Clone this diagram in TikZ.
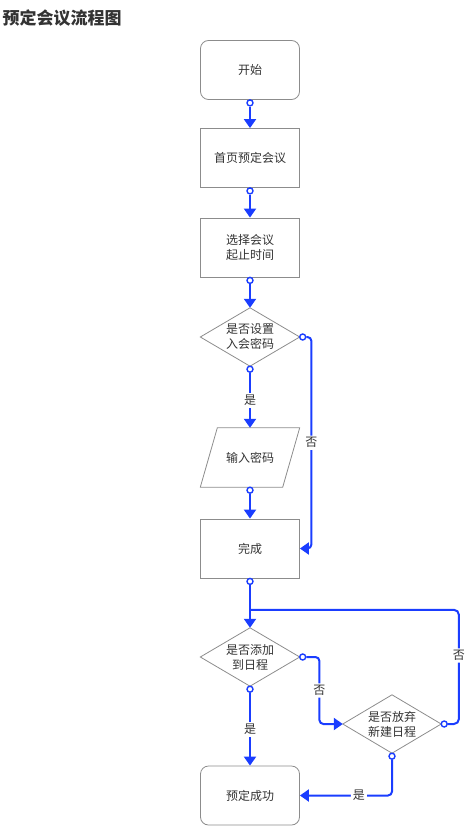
\documentclass[tikz,border=0pt]{standalone}
\usepackage{fontspec}
\setmainfont{Noto Sans CJK SC}
\usetikzlibrary{arrows.meta,calc}
\definecolor{flow}{HTML}{1A3DFF}
\definecolor{edgegray}{HTML}{8C8C8C}
\definecolor{txt}{HTML}{333333}
\tikzset{
  base/.style={minimum width=99pt, minimum height=59pt, inner sep=0pt, align=center,
    font=\fontsize{12}{15}\selectfont, text=txt},
  procbox/.style={base, draw=edgegray, line width=0.8pt},
  termbox/.style={procbox, rounded corners=8pt},
  shapeonly/.style={base},
  outline/.style={draw=edgegray, line width=0.8pt},
  dotnode/.style={circle, draw=flow, fill=white, line width=1.4pt, minimum size=6pt, inner sep=0pt},
  conn/.style={draw=flow, line width=2pt, -{Triangle[width=12pt,length=9pt]}},
  plainconn/.style={draw=flow, line width=2pt},
  lbl/.style={fill=white, text=txt, font=\fontsize{12}{14}\selectfont, inner sep=2pt},
}
\begin{document}
\begin{tikzpicture}[x=1pt,y=-1pt]
\useasboundingbox (0,0) rectangle (473,826);
\node[anchor=west, text=txt, font=\fontsize{17}{20}\selectfont\bfseries] (title) at (-1,18) {预定会议流程图};

% nodes
\node[termbox] (start) at (250,70) {开始};
\node[procbox] (home) at (250,158) {首页预定会议};
\node[procbox] (pick) at (250,247.5) {选择会议\\起止时间};
\node[shapeonly, minimum height=58pt] (pwdq) at (250,337) {是否设置\\入会密码};
\draw[outline] (pwdq.north) -- (pwdq.east) -- (pwdq.south) -- (pwdq.west) -- cycle;
\node[shapeonly] (pwd) at (250,457.5) {输入密码};
\draw[outline] ($(pwd.north west)+(17,0)$) -- (pwd.north east) -- ($(pwd.south east)+(-17,0)$) -- (pwd.south west) -- cycle;
\node[procbox] (done) at (250,548.5) {完成};
\node[shapeonly, minimum height=58pt] (addq) at (250,657) {是否添加\\到日程};
\draw[outline] (addq.north) -- (addq.east) -- (addq.south) -- (addq.west) -- cycle;
\node[shapeonly, minimum width=98pt, minimum height=58pt] (quitq) at (392,724) {是否放弃\\新建日程};
\draw[outline] (quitq.north) -- (quitq.east) -- (quitq.south) -- (quitq.west) -- cycle;
\node[termbox] (final) at (250,795.5) {预定成功};

% dots (connector start points)
\node[dotnode] (d1) at ($(start.south)+(0,3)$) {};
\node[dotnode] (d2) at ($(home.south)+(0,3)$) {};
\node[dotnode] (d3) at ($(pick.south)+(0,3)$) {};
\node[dotnode] (d4) at ($(pwdq.south)+(0,3)$) {};
\node[dotnode] (d5) at ($(pwdq.east)+(3,0)$) {};
\node[dotnode] (d6) at ($(pwd.south)+(0,3)$) {};
\node[dotnode] (d7) at ($(done.south)+(0,3)$) {};
\node[dotnode] (d8) at ($(addq.south)+(0,3)$) {};
\node[dotnode] (d9) at ($(addq.east)+(3,0)$) {};
\node[dotnode] (d10) at ($(quitq.east)+(3,0)$) {};
\node[dotnode] (d11) at ($(quitq.south)+(0,3)$) {};

% connectors
\draw[conn] (d1) -- (home.north);
\draw[conn] (d2) -- (pick.north);
\draw[conn] (d3) -- (pwdq.north);
\draw[conn] (d4) -- node[lbl]{是} (pwd.north);
\draw[conn, rounded corners=4pt] (d5.east) -- ++(5,0) |- node[lbl, pos=0.25]{否} (done.east);
\draw[conn] (d6) -- (pwd.south |- done.north);
\draw[conn] (d7) -- (addq.north);
\draw[plainconn, rounded corners=5pt] (d10.east) -- ++(11,0) |- node[lbl, pos=0.3]{否} ($(addq.north)+(0,-18)$);
\draw[conn, rounded corners=4pt] (d9.east) -- ++(13,0) |- node[lbl, pos=0.25]{否} (quitq.west);
\draw[conn] (d8) -- node[lbl]{是} (final.north);
\draw[conn, rounded corners=4pt] (d11.south) |- node[lbl, pos=0.68]{是} (final.east);
\end{tikzpicture}
\end{document}
